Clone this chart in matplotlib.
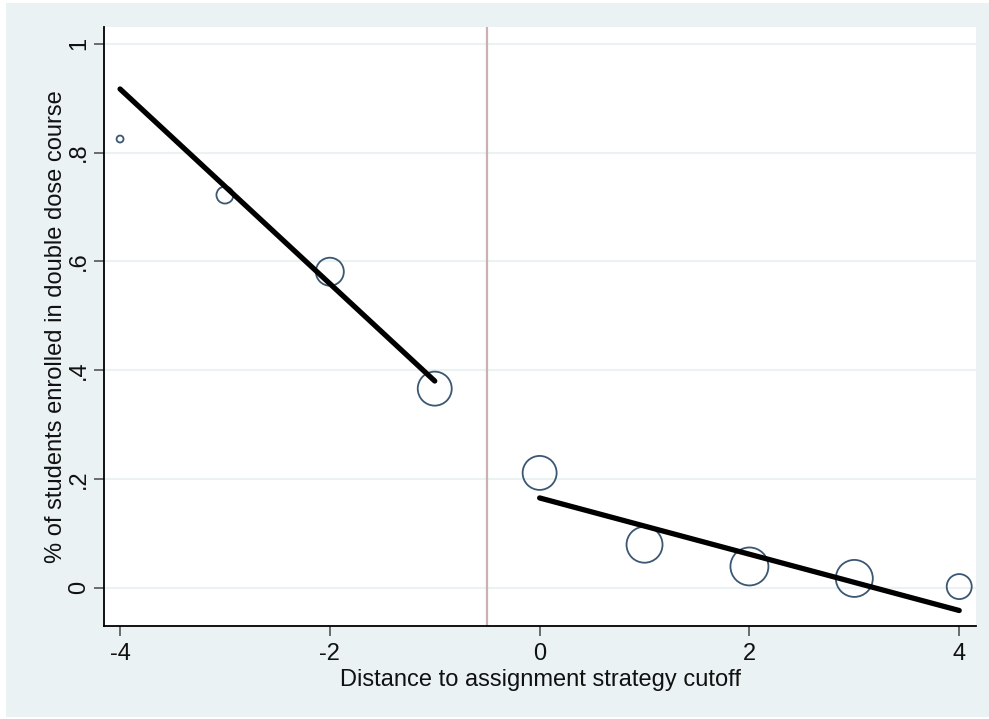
import matplotlib
matplotlib.use("Agg")
import matplotlib.pyplot as plt
from matplotlib.patches import Rectangle

# ---- data ----
distance = [-4, -3, -2, -1, 0, 1, 2, 3, 4]
share_enrolled = [0.825, 0.722, 0.581, 0.366, 0.211, 0.079, 0.039, 0.017, 0.002]
bin_weight = [25, 150, 406, 599, 599, 672, 748, 710, 324]   # marker area (pt^2)

fit_left_x = [-4, -1]
fit_left_y = [0.917, 0.380]
fit_right_x = [0, 4]
fit_right_y = [0.165, -0.042]

cutoff = -0.5
xticks = [-4, -2, 0, 2, 4]
xtick_labels = ["-4", "-2", "0", "2", "4"]
yticks = [0, 0.2, 0.4, 0.6, 0.8, 1.0]
ytick_labels = ["0", ".2", ".4", ".6", ".8", "1"]

BG = "#EAF2F3"
NAVY = "#3B5773"
plt.rcParams["font.family"] = ["Liberation Sans", "DejaVu Sans"]

W, H = 989, 719
fig = plt.figure(figsize=(W / 100, H / 100), dpi=100, facecolor="white")
fig.patches.append(Rectangle((6 / W, 2 / H), (W - 6) / W, (H - 5) / H,
                             transform=fig.transFigure, facecolor=BG,
                             edgecolor="none", zorder=-10))

ax = fig.add_axes([104 / W, 1 - 626 / H, (976 - 104) / W, (626 - 27) / H])
ax.set_facecolor("white")

for y in yticks:
    ax.axhline(y, color=BG, lw=1.5, zorder=0)

ax.axvline(cutoff, color="#C9B0B2", lw=1.6, zorder=1)

ax.scatter(distance, share_enrolled, s=bin_weight, facecolors="none",
           edgecolors=NAVY, linewidths=1.3, zorder=2)

ax.plot(fit_left_x, fit_left_y, color="black", lw=3.8, zorder=3,
        solid_capstyle="round")
ax.plot(fit_right_x, fit_right_y, color="black", lw=3.8, zorder=3,
        solid_capstyle="round")

ax.set_xlim(-4.153, 4.16)
ax.set_ylim(-0.0705, 1.031)

ax.set_xticks(xticks)
ax.set_xticklabels(xtick_labels)
ax.set_yticks(yticks)
ax.set_yticklabels(ytick_labels, rotation=90, va="center")

for side in ["top", "right"]:
    ax.spines[side].set_visible(False)
for side in ["left", "bottom"]:
    ax.spines[side].set_color("black")
    ax.spines[side].set_linewidth(1.3)

ax.tick_params(axis="both", direction="out", length=7, width=1.2,
               color="#555555", labelsize=17, labelcolor="#111111", pad=5)
ax.tick_params(axis="y", pad=3)

ax.set_xlabel("Distance to assignment strategy cutoff", fontsize=17,
              color="#111111", labelpad=3)
ax.set_ylabel("% of students enrolled in double dose course", fontsize=17,
              color="#111111", labelpad=1)

fig.savefig("out.png", dpi=100, facecolor="white")
